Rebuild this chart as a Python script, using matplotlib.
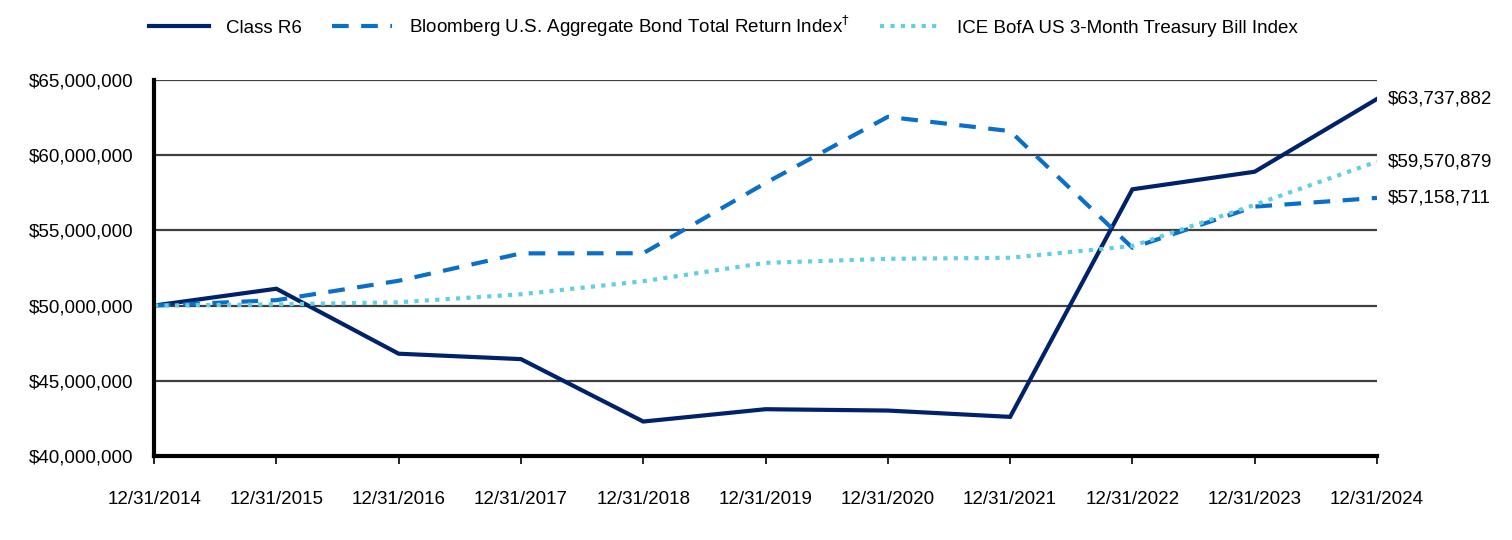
import matplotlib
matplotlib.use("Agg")
import matplotlib.pyplot as plt
from matplotlib.ticker import FuncFormatter

plt.rcParams['font.family'] = ['Liberation Sans', 'DejaVu Sans']

# data
dates = ['12/31/2014', '12/31/2015', '12/31/2016', '12/31/2017', '12/31/2018', '12/31/2019',
         '12/31/2020', '12/31/2021', '12/31/2022', '12/31/2023', '12/31/2024']
class_r6 = [50000000, 51120000, 46800000, 46440000, 42290000, 43110000,
            43020000, 42600000, 57730000, 58900000, 63737882]
bloomberg = [50000000, 50360000, 51650000, 53470000, 53480000, 58150000,
             62550000, 61600000, 53840000, 56580000, 57158711]
ice = [50000000, 50080000, 50220000, 50750000, 51620000, 52840000,
       53110000, 53180000, 53960000, 56700000, 59570879]

names = ['Class R6', 'Bloomberg U.S. Aggregate Bond Total Return Index$^{\\dagger}$',
         'ICE BofA US 3-Month Treasury Bill Index']
end_labels = ['$63,737,882', '$59,570,879', '$57,158,711']

fig = plt.figure(figsize=(15.12, 5.4), dpi=100)
ax = fig.add_axes([0.1019, 0.1556, 0.8088, 0.6963])

x = list(range(len(dates)))
l1, = ax.plot(x, class_r6, color='#00226a', lw=3.0, solid_joinstyle='miter')
l2, = ax.plot(x, bloomberg, color='#0a6fc9', lw=3.0, dashes=(4, 3))
l3, = ax.plot(x, ice, color='#62cfe0', lw=3.0, dashes=(1, 1.5), dash_capstyle='butt')

ax.set_xlim(0, 10)
ax.set_ylim(40000000, 65000000)
ax.set_yticks([40000000, 45000000, 50000000, 55000000, 60000000, 65000000])
ax.yaxis.set_major_formatter(FuncFormatter(lambda v, p: '${:,.0f}'.format(v)))
ax.set_xticks(x)
ax.set_xticklabels(dates)

ax.grid(axis='y', color='#404040', lw=1.6)
ax.set_axisbelow(True)
for s in ['top', 'right']:
    ax.spines[s].set_visible(False)
ax.spines['left'].set_linewidth(3)
ax.spines['bottom'].set_linewidth(3)
ax.tick_params(axis='y', length=0, labelsize=13.5, pad=15)
ax.tick_params(axis='x', length=6, width=1.2, direction='out', labelsize=13.5, pad=19)

# value labels at the right end
for vals, lab in zip([class_r6, ice, bloomberg], end_labels):
    ax.annotate(lab, xy=(10, vals[-1]), xytext=(8, 0), textcoords='offset points',
                va='center', ha='left', fontsize=13.5, annotation_clip=False)

fig.legend([l1, l2, l3], names, loc='center', bbox_to_anchor=(0.4785, 0.952), ncol=3,
           frameon=False, fontsize=13.5, handlelength=3.2, columnspacing=1.6,
           handletextpad=0.9)

fig.savefig('out.png', dpi=100)
